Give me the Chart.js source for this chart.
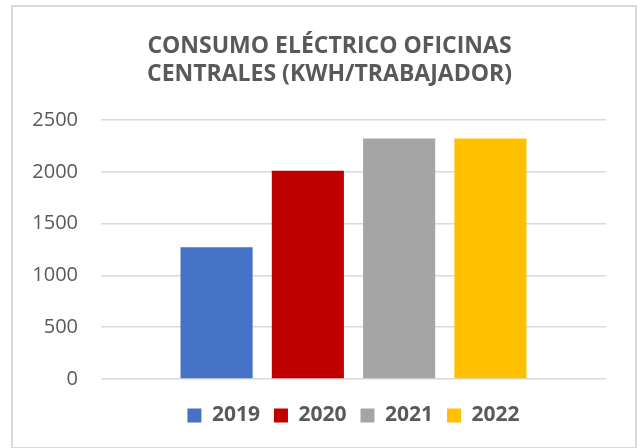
<!DOCTYPE html>
<html>
<head>
<meta charset="utf-8">
<script src="https://cdn.jsdelivr.net/npm/chart.js@4"></script>
<style>
  body { margin: 0; background: #fff; }
  #box {
    position: absolute; left: 11px; top: 5px;
    width: 622px; height: 440px;
    border: 2px solid #d9d9d9; background: #fff;
  }
</style>
</head>
<body>
<div id="box"><canvas id="chart" width="622" height="440"></canvas></div>
<script>
// Datos
const categories = [''];
const years = ['2019', '2020', '2021', '2022'];
const consumo = [1271, 2011, 2322, 2322];
const barColors = ['#4472c4', '#c00000', '#a5a5a5', '#ffc000'];
const yTicks = [0, 500, 1000, 1500, 2000, 2500];

const titleLines = ['CONSUMO ELÉCTRICO OFICINAS', 'CENTRALES (KWH/TRABAJADOR)'];
const TEXT_COLOR = '#595959';
const FONT = "'Open Sans', 'Noto Sans', sans-serif";

const datasets = years.map((y, i) => ({
  label: y,
  data: [consumo[i]],
  backgroundColor: barColors[i],
  borderWidth: 0,
  categoryPercentage: 0.723,
  barPercentage: 0.79
}));

// el título del original no está centrado en el lienzo, se desplaza un poco
const shiftTitle = {
  id: 'shiftTitle',
  afterLayout(chart) {
    chart.titleBlock.left += 20;
    chart.titleBlock.right += 20;
  }
};

new Chart(document.getElementById('chart').getContext('2d'), {
  type: 'bar',
  data: { labels: categories, datasets: datasets },
  plugins: [shiftTitle],
  options: {
    responsive: false,
    animation: false,
    layout: { padding: { left: 0, right: 29, top: 0, bottom: 11 } },
    plugins: {
      tooltip: { enabled: false },
      title: {
        display: true,
        text: titleLines,
        color: TEXT_COLOR,
        font: { family: FONT, size: 23, weight: 'bold', lineHeight: 27.5 / 23 },
        padding: { top: 26, bottom: 32 }
      },
      legend: {
        position: 'bottom',
        fullSize: false,
        labels: {
          color: TEXT_COLOR,
          boxWidth: 14,
          boxHeight: 14,
          padding: 14,
          font: { family: FONT, size: 21, weight: 'bold' }
        }
      }
    },
    scales: {
      x: {
        grid: { display: false },
        border: { display: false },
        ticks: { display: false },
        afterFit: scale => { scale.height = 12; }
      },
      y: {
        min: 0,
        max: 2500,
        afterBuildTicks: scale => { scale.ticks = yTicks.map(v => ({ value: v })); },
        afterFit: scale => { scale.width = 88; },
        grid: { color: '#d9d9d9', lineWidth: 1.5, drawTicks: false },
        border: { display: false },
        ticks: {
          padding: 23,
          color: TEXT_COLOR,
          font: { family: FONT, size: 20 },
          callback: v => String(v)
        }
      }
    }
  }
});
</script>
</body>
</html>
